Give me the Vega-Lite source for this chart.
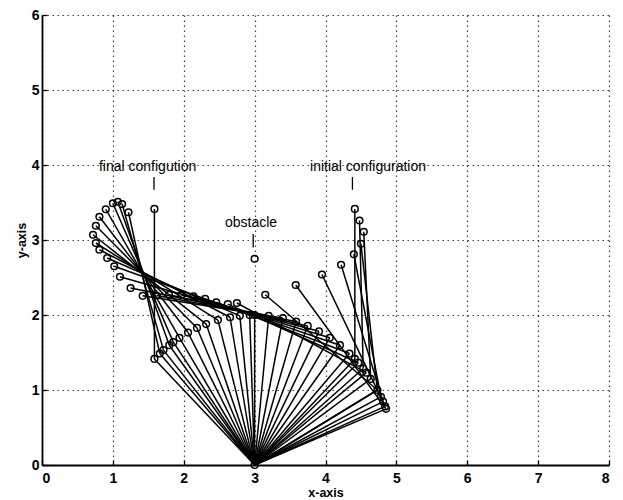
{
  "$schema": "https://vega.github.io/schema/vega-lite/v6.json",
  "width": 567,
  "height": 450,
  "autosize": {"type": "none"},
  "padding": {"left": 42, "top": 15, "right": 14, "bottom": 35},
  "background": "white",
  "config": {
    "view": {"stroke": null},
    "font": "Liberation Sans",
    "axis": {
      "domainColor": "black",
      "domainWidth": 1.8,
      "grid": true,
      "gridColor": "black",
      "gridDash": [1.5, 3.5],
      "gridWidth": 1.2,
      "gridOpacity": 0.75,
      "tickColor": "black",
      "tickSize": -5,
      "tickWidth": 1.3,
      "labelColor": "black",
      "labelFont": "Liberation Sans",
      "labelFontSize": 14,
      "labelFontWeight": "bold",
      "titleColor": "black",
      "titleFont": "Liberation Sans",
      "titleFontSize": 12.5,
      "titleFontWeight": "bold"
    }
  },
  "datasets": {
    "segs": [
      {"x": 3, "y": 0, "x2": 4.414, "y2": 1.414}, {"x": 4.414, "y": 1.414, "x2": 4.414, "y2": 3.414},
      {"x": 3, "y": 0, "x2": 4.532, "y2": 1.286}, {"x": 4.532, "y": 1.286, "x2": 4.48, "y2": 3.26},
      {"x": 3, "y": 0, "x2": 4.638, "y2": 1.147}, {"x": 4.638, "y": 1.147, "x2": 4.54, "y2": 3.11},
      {"x": 3, "y": 0, "x2": 4.732, "y2": 1.0}, {"x": 4.732, "y": 1.0, "x2": 4.5, "y2": 2.95},
      {"x": 3, "y": 0, "x2": 4.782, "y2": 0.908}, {"x": 4.782, "y": 0.908, "x2": 4.4, "y2": 2.81},
      {"x": 3, "y": 0, "x2": 4.813, "y2": 0.845}, {"x": 4.813, "y": 0.845, "x2": 4.22, "y2": 2.67},
      {"x": 3, "y": 0, "x2": 4.841, "y2": 0.781}, {"x": 4.841, "y": 0.781, "x2": 3.95, "y2": 2.54},
      {"x": 3, "y": 0, "x2": 4.854, "y2": 0.749}, {"x": 4.854, "y": 0.749, "x2": 3.58, "y2": 2.4},
      {"x": 3, "y": 0, "x2": 4.732, "y2": 1.0}, {"x": 4.732, "y": 1.0, "x2": 3.15, "y2": 2.27},
      {"x": 3, "y": 0, "x2": 4.576, "y2": 1.231}, {"x": 4.576, "y": 1.231, "x2": 2.75, "y2": 2.16},
      {"x": 3, "y": 0, "x2": 4.463, "y2": 1.364}, {"x": 4.463, "y": 1.364, "x2": 2.622, "y2": 2.145},
      {"x": 3, "y": 0, "x2": 4.338, "y2": 1.486}, {"x": 4.338, "y": 1.486, "x2": 2.459, "y2": 2.17},
      {"x": 3, "y": 0, "x2": 4.204, "y2": 1.597}, {"x": 4.204, "y": 1.597, "x2": 2.302, "y2": 2.215},
      {"x": 3, "y": 0, "x2": 4.06, "y2": 1.696}, {"x": 4.06, "y": 1.696, "x2": 2.137, "y2": 2.247},
      {"x": 3, "y": 0, "x2": 3.908, "y2": 1.782}, {"x": 3.908, "y": 1.782, "x2": 1.967, "y2": 2.266},
      {"x": 3, "y": 0, "x2": 3.749, "y2": 1.854}, {"x": 3.749, "y": 1.854, "x2": 1.793, "y2": 2.27},
      {"x": 3, "y": 0, "x2": 3.585, "y2": 1.913}, {"x": 3.585, "y": 1.913, "x2": 1.615, "y2": 2.26},
      {"x": 3, "y": 0, "x2": 3.399, "y2": 1.96}, {"x": 3.399, "y": 1.96, "x2": 1.421, "y2": 2.256},
      {"x": 3, "y": 0, "x2": 3.199, "y2": 1.99}, {"x": 3.199, "y": 1.99, "x2": 1.25, "y2": 2.36},
      {"x": 3, "y": 0, "x2": 3.0, "y2": 2.0}, {"x": 3.0, "y": 2.0, "x2": 1.1, "y2": 2.51},
      {"x": 3, "y": 0, "x2": 2.93, "y2": 1.999}, {"x": 2.93, "y": 1.999, "x2": 1.02, "y2": 2.65},
      {"x": 3, "y": 0, "x2": 2.791, "y2": 1.989}, {"x": 2.791, "y": 1.989, "x2": 0.92, "y2": 2.76},
      {"x": 3, "y": 0, "x2": 2.653, "y2": 1.97}, {"x": 2.653, "y": 1.97, "x2": 0.81, "y2": 2.87},
      {"x": 3, "y": 0, "x2": 2.482, "y2": 1.932}, {"x": 2.482, "y": 1.932, "x2": 0.76, "y2": 2.96},
      {"x": 3, "y": 0, "x2": 2.316, "y2": 1.879}, {"x": 2.316, "y": 1.879, "x2": 0.72, "y2": 3.07},
      {"x": 3, "y": 0, "x2": 2.187, "y2": 1.827}, {"x": 2.187, "y": 1.827, "x2": 0.76, "y2": 3.19},
      {"x": 3, "y": 0, "x2": 2.061, "y2": 1.766}, {"x": 2.061, "y": 1.766, "x2": 0.81, "y2": 3.31},
      {"x": 3, "y": 0, "x2": 1.94, "y2": 1.696}, {"x": 1.94, "y": 1.696, "x2": 0.9, "y2": 3.41},
      {"x": 3, "y": 0, "x2": 1.853, "y2": 1.638}, {"x": 1.853, "y": 1.638, "x2": 1.0, "y2": 3.49},
      {"x": 3, "y": 0, "x2": 1.796, "y2": 1.597}, {"x": 1.796, "y": 1.597, "x2": 1.07, "y2": 3.51},
      {"x": 3, "y": 0, "x2": 1.714, "y2": 1.532}, {"x": 1.714, "y": 1.532, "x2": 1.13, "y2": 3.48},
      {"x": 3, "y": 0, "x2": 1.662, "y2": 1.486}, {"x": 1.662, "y": 1.486, "x2": 1.22, "y2": 3.37},
      {"x": 3, "y": 0, "x2": 1.586, "y2": 1.414}, {"x": 1.586, "y": 1.414, "x2": 1.586, "y2": 3.414}
    ],
    "pts": [
      {"x": 3, "y": 0},
      {"x": 4.414, "y": 1.414}, {"x": 4.414, "y": 3.414},
      {"x": 4.532, "y": 1.286}, {"x": 4.48, "y": 3.26},
      {"x": 4.638, "y": 1.147}, {"x": 4.54, "y": 3.11},
      {"x": 4.732, "y": 1.0}, {"x": 4.5, "y": 2.95},
      {"x": 4.782, "y": 0.908}, {"x": 4.4, "y": 2.81},
      {"x": 4.813, "y": 0.845}, {"x": 4.22, "y": 2.67},
      {"x": 4.841, "y": 0.781}, {"x": 3.95, "y": 2.54},
      {"x": 4.854, "y": 0.749}, {"x": 3.58, "y": 2.4},
      {"x": 3.15, "y": 2.27},
      {"x": 4.576, "y": 1.231}, {"x": 2.75, "y": 2.16},
      {"x": 4.463, "y": 1.364}, {"x": 2.622, "y": 2.145},
      {"x": 4.338, "y": 1.486}, {"x": 2.459, "y": 2.17},
      {"x": 4.204, "y": 1.597}, {"x": 2.302, "y": 2.215},
      {"x": 4.06, "y": 1.696}, {"x": 2.137, "y": 2.247},
      {"x": 3.908, "y": 1.782}, {"x": 1.967, "y": 2.266},
      {"x": 3.749, "y": 1.854}, {"x": 1.793, "y": 2.27},
      {"x": 3.585, "y": 1.913}, {"x": 1.615, "y": 2.26},
      {"x": 3.399, "y": 1.96}, {"x": 1.421, "y": 2.256},
      {"x": 3.199, "y": 1.99}, {"x": 1.25, "y": 2.36},
      {"x": 3.0, "y": 2.0}, {"x": 1.1, "y": 2.51},
      {"x": 2.93, "y": 1.999}, {"x": 1.02, "y": 2.65},
      {"x": 2.791, "y": 1.989}, {"x": 0.92, "y": 2.76},
      {"x": 2.653, "y": 1.97}, {"x": 0.81, "y": 2.87},
      {"x": 2.482, "y": 1.932}, {"x": 0.76, "y": 2.96},
      {"x": 2.316, "y": 1.879}, {"x": 0.72, "y": 3.07},
      {"x": 2.187, "y": 1.827}, {"x": 0.76, "y": 3.19},
      {"x": 2.061, "y": 1.766}, {"x": 0.81, "y": 3.31},
      {"x": 1.94, "y": 1.696}, {"x": 0.9, "y": 3.41},
      {"x": 1.853, "y": 1.638}, {"x": 1.0, "y": 3.49},
      {"x": 1.796, "y": 1.597}, {"x": 1.07, "y": 3.51},
      {"x": 1.714, "y": 1.532}, {"x": 1.13, "y": 3.48},
      {"x": 1.662, "y": 1.486}, {"x": 1.22, "y": 3.37},
      {"x": 1.586, "y": 1.414}, {"x": 1.586, "y": 3.414},
      {"x": 3.0, "y": 2.75}
    ],
    "pointers": [
      {"x": 1.58, "y": 3.67, "x2": 1.58, "y2": 3.84},
      {"x": 4.38, "y": 3.67, "x2": 4.38, "y2": 3.84},
      {"x": 2.98, "y": 2.9, "x2": 2.98, "y2": 3.08}
    ],
    "labels": [
      {"x": 1.49, "y": 3.98, "text": "final configution"},
      {"x": 4.6, "y": 3.98, "text": "initial configuration"},
      {"x": 2.95, "y": 3.23, "text": "obstacle"}
    ]
  },
  "encoding": {
    "x": {
      "field": "x", "type": "quantitative",
      "scale": {"domain": [0, 8], "nice": false, "zero": false},
      "axis": {"title": "x-axis", "values": [0, 1, 2, 3, 4, 5, 6, 7, 8], "labelPadding": 11, "titlePadding": 1}
    },
    "y": {
      "field": "y", "type": "quantitative",
      "scale": {"domain": [0, 6], "nice": false, "zero": false},
      "axis": {"title": "y-axis", "values": [0, 1, 2, 3, 4, 5, 6], "labelPadding": 8, "titlePadding": 3}
    }
  },
  "layer": [
    {
      "data": {"name": "segs"},
      "mark": {"type": "rule", "color": "black", "strokeWidth": 1.5},
      "encoding": {"x2": {"field": "x2"}, "y2": {"field": "y2"}}
    },
    {
      "data": {"name": "pts"},
      "mark": {"type": "point", "shape": "circle", "filled": false, "color": "black", "size": 45, "strokeWidth": 1.5, "opacity": 1}
    },
    {
      "data": {"name": "pointers"},
      "mark": {"type": "rule", "color": "black", "strokeWidth": 1.3},
      "encoding": {"x2": {"field": "x2"}, "y2": {"field": "y2"}}
    },
    {
      "data": {"name": "labels"},
      "mark": {"type": "text", "fontSize": 14, "color": "black", "font": "Liberation Sans", "baseline": "middle", "align": "center"},
      "encoding": {"text": {"field": "text", "type": "nominal"}}
    }
  ]
}
